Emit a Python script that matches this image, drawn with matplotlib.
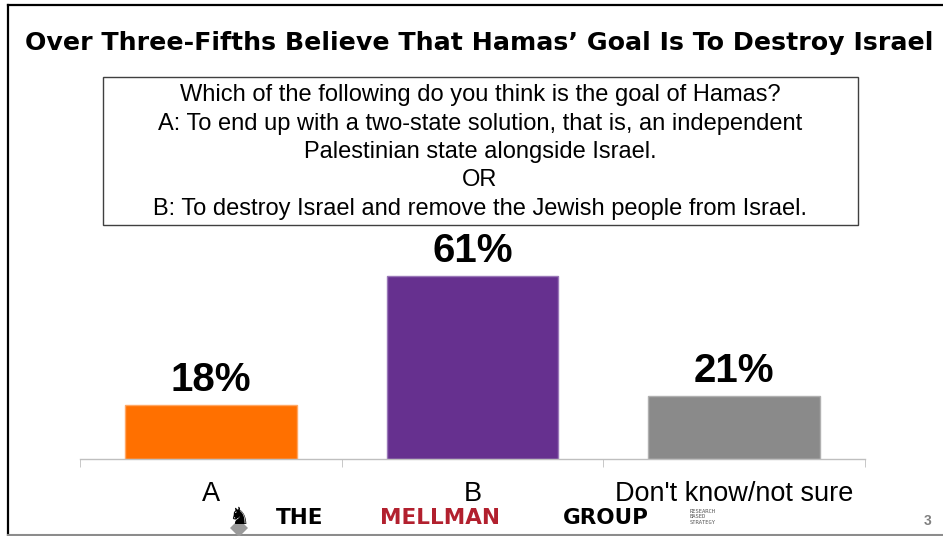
import numpy as np
import matplotlib
matplotlib.use('Agg')
import matplotlib.pyplot as plt
from matplotlib.lines import Line2D
from matplotlib.patches import Rectangle

# data
categories = ['A', 'B', "Don't know/not sure"]
values = [18, 61, 21]
bar_colors = ['#FF7000', '#66308F', '#8A8A8A']
edge_colors = ['#FFA865', '#9A78B8', '#B0B0B0']

title = 'Over Three-Fifths Believe That Hamas\u2019 Goal Is To Destroy Israel'
question = ('Which of the following do you think is the goal of Hamas?\n'
            'A: To end up with a two-state solution, that is, an independent\n'
            'Palestinian state alongside Israel.\n'
            'OR\n'
            'B: To destroy Israel and remove the Jewish people from Israel.')

W, H = 943, 536
def fx(x):
    return x / W
def fy(y):
    return 1 - y / H

fig = plt.figure(figsize=(9.43, 5.36), dpi=100)
fig.patch.set_facecolor('white')

# slide frame
fig.add_artist(Line2D([fx(8), fx(8)], [fy(5), fy(536)], color='black', lw=1.6, transform=fig.transFigure))
fig.add_artist(Line2D([fx(8), fx(943)], [fy(5), fy(5)], color='black', lw=1.6, transform=fig.transFigure))
fig.add_artist(Line2D([fx(8), fx(943)], [fy(534.5), fy(534.5)], color='#8C8C8C', lw=1.5, transform=fig.transFigure))

# title
fig.text(fx(479), fy(43), title, ha='center', va='center', fontsize=18.2,
         fontweight='bold', family='DejaVu Sans', color='black')

# question box
fig.add_artist(Rectangle((fx(103), fy(225)), fx(858) - fx(103), fy(77) - fy(225),
                         transform=fig.transFigure, fill=False, edgecolor='#404040', lw=1.0))
fig.text(fx(480), fy(152), question, ha='center', va='center', fontsize=17,
         family='Liberation Sans', linespacing=1.37, color='black')

# chart
ax = fig.add_axes([fx(80), fy(459), fx(865) - fx(80), (459 - 249) / H])
x = np.arange(len(categories))
bars = ax.bar(x, values, width=0.655, color=bar_colors, edgecolor=edge_colors, linewidth=1.0)
ax.set_xlim(-0.5, 2.5)
ax.set_ylim(0, 70)
ax.bar_label(bars, labels=['%d%%' % v for v in values], padding=4, fontsize=29,
             fontweight='bold', family='Liberation Sans')

for s in ['top', 'right', 'left']:
    ax.spines[s].set_visible(False)
ax.spines['bottom'].set_color('#BFBFBF')
ax.spines['bottom'].set_linewidth(1.0)
ax.set_yticks([])
ax.set_xticks(x)
ax.set_xticklabels(categories, fontsize=19.5, family='Liberation Sans')
ax.tick_params(axis='x', which='major', length=0, pad=16)
ax.set_xticks([-0.5, 0.5, 1.5, 2.5], minor=True)
ax.tick_params(axis='x', which='minor', length=6, color='#BFBFBF', direction='out')
ax.patch.set_alpha(0)

# footer logo
fig.text(fx(239), fy(517), '\u265E', ha='center', va='center', fontsize=17,
         family='DejaVu Sans', color='black')
fig.add_artist(Line2D([fx(239)], [fy(528)], marker='D', markersize=9, color='#9A9A9A',
                      markeredgewidth=0, transform=fig.transFigure))
fig.text(fx(300), fy(518), 'THE', ha='center', va='center', fontsize=15.5,
         fontweight='bold', family='DejaVu Sans', color='black')
fig.text(fx(440), fy(518), 'MELLMAN', ha='center', va='center', fontsize=15.5,
         fontweight='bold', family='DejaVu Sans', color='#B2202E')
fig.text(fx(606), fy(518), 'GROUP', ha='center', va='center', fontsize=15.5,
         fontweight='bold', family='DejaVu Sans', color='black')
fig.text(fx(690), fy(517), 'RESEARCH\nBASED\nSTRATEGY', ha='left', va='center', fontsize=4,
         family='DejaVu Sans Mono', color='#555555', linespacing=1.1)
fig.text(fx(928), fy(521), '3', ha='center', va='center', fontsize=10,
         fontweight='bold', family='Liberation Sans', color='#808080')

fig.savefig('out.png', dpi=100)
